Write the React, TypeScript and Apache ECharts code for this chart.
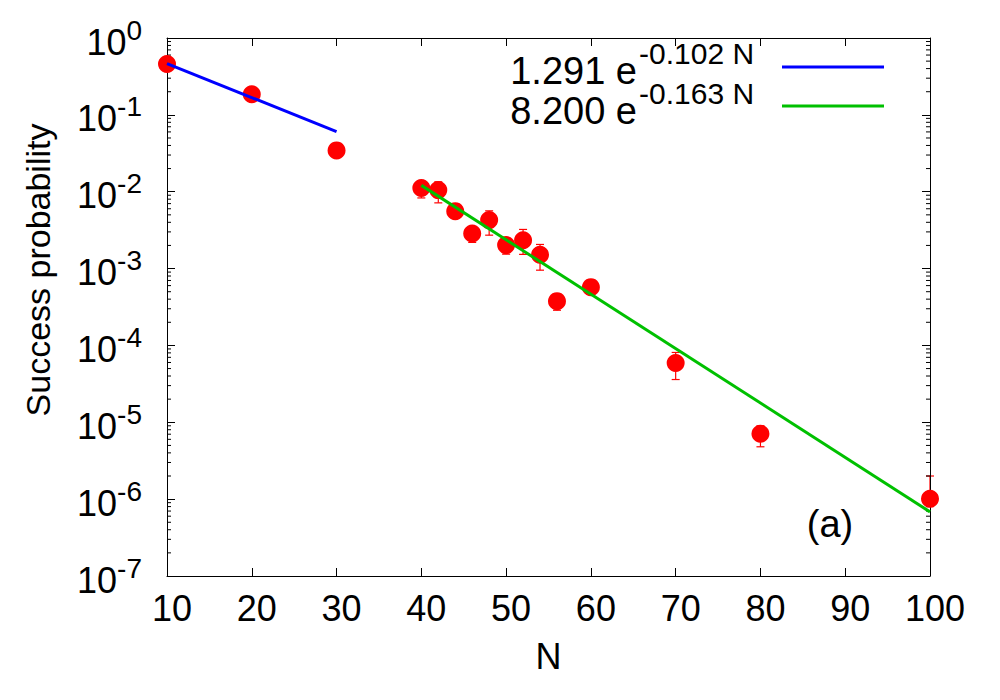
import React, { useEffect, useRef } from "react";
import * as echarts from "echarts";

// Measured points (N, success probability)
const pointN = [10, 20, 30, 40, 42, 44, 46, 48, 50, 52, 54, 56, 60, 70, 80, 100];
const pointP = [0.458, 0.185, 0.0345, 0.0112, 0.0105, 0.00559, 0.00286, 0.00427, 0.00202, 0.00234, 0.00151, 0.000377, 0.000573, 5.9e-5, 7.1e-6, 1.01e-6];

// Error bars
const errN = [40, 42, 44, 46, 48, 50, 52, 54, 56, 60, 70, 80, 100];
const errLow = [0.0083, 0.00716, 0.005, 0.00219, 0.00272, 0.00154, 0.00153, 0.000953, 0.000287, 0.0005, 3.6e-5, 4.8e-6, 8e-7];
const errHigh = [0.0135, 0.01346, 0.0063, 0.0035, 0.00564, 0.0025, 0.00323, 0.00206, 0.00045, 0.00065, 8.1e-5, 9e-6, 2.0e-6];

// Fit lines (end points; straight on a log axis)
const fit1N = [10, 30];
const fit1P = [0.4655, 0.0605];
const fit2N = [40, 100];
const fit2P = [0.01209, 6.83e-7];

// Legend texts
const fitCoef = ["1.291 e", "8.200 e"];
const fitRate = ["-0.102 N", "-0.163 N"];
const fitColors = ["#0000ff", "#00c000"];

// Axis ticks
const xTicks = [10, 20, 30, 40, 50, 60, 70, 80, 90, 100];
const yDecades = [-7, -6, -5, -4, -3, -2, -1];
const minorMult = [2, 3, 4, 5, 6, 7, 8, 9];

const FONT = "'Liberation Sans', Arial, Helvetica, sans-serif";

export default function App() {
  const ref = useRef<HTMLDivElement>(null);
  useEffect(() => {
    if (!ref.current) return;
    const chart = echarts.init(ref.current, undefined, { renderer: "svg" });

    const minorData: number[][] = [];
    yDecades.forEach((d) => {
      minorMult.forEach((m) => {
        minorData.push([xTicks[0], m * Math.pow(10, d)]);
      });
    });

    const axisLine = { show: true, lineStyle: { color: "#000", width: 1 } };
    const tick = { show: true, inside: true, length: 8, lineStyle: { color: "#000", width: 1 } };

    const legendGraphics: any[] = [];
    const rowY = [70.5, 110.5];
    const lineY = [67, 106];
    fitCoef.forEach((c, i) => {
      legendGraphics.push({
        type: "text",
        x: 637,
        y: rowY[i],
        style: { text: c, font: `38px ${FONT}`, fill: "#000", align: "right", verticalAlign: "middle" },
      });
      legendGraphics.push({
        type: "text",
        x: 639,
        y: rowY[i] - 17,
        style: { text: fitRate[i], font: `30px ${FONT}`, fill: "#000", align: "left", verticalAlign: "middle" },
      });
      legendGraphics.push({
        type: "line",
        shape: { x1: 782, y1: lineY[i], x2: 884, y2: lineY[i] },
        style: { stroke: fitColors[i], lineWidth: 3 },
      });
    });
    legendGraphics.push({
      type: "text",
      x: 830,
      y: 524,
      style: { text: "(a)", font: `38px ${FONT}`, fill: "#000", align: "center", verticalAlign: "middle" },
    });

    chart.setOption({
      animation: false,
      backgroundColor: "#fff",
      textStyle: { fontFamily: FONT },
      grid: { left: 167, right: 70, top: 38, bottom: 124, containLabel: false },
      xAxis: [
        {
          type: "value",
          min: 10,
          max: 100,
          interval: 10,
          position: "bottom",
          axisLine,
          axisTick: tick,
          splitLine: { show: false },
          axisLabel: {
            show: true,
            color: "#000",
            fontSize: 36,
            fontFamily: FONT,
            margin: 14,
            padding: [0, 0, 0, 10],
          },
          name: "N",
          nameLocation: "middle",
          nameGap: 62,
          nameTextStyle: { color: "#000", fontSize: 36, fontFamily: FONT },
        },
        {
          type: "value",
          min: 10,
          max: 100,
          interval: 10,
          position: "top",
          axisLine,
          axisTick: tick,
          splitLine: { show: false },
          axisLabel: { show: false },
        },
      ],
      yAxis: [
        {
          type: "log",
          logBase: 10,
          min: 1e-7,
          max: 1,
          interval: 1,
          splitNumber: 7,
          position: "left",
          axisLine,
          axisTick: tick,
          splitLine: { show: false },
          axisLabel: {
            color: "#000",
            margin: 25,
            formatter: (v: number) => `{b|10}{s|${Math.round(Math.log10(v))}}`,
            rich: {
              b: { fontSize: 36, fontFamily: FONT, color: "#000", lineHeight: 44, verticalAlign: "bottom" },
              s: { fontSize: 28, fontFamily: FONT, color: "#000", lineHeight: 24, verticalAlign: "top" },
            },
          },
          name: "Success probability",
          nameLocation: "middle",
          nameRotate: 90,
          nameGap: 112,
          nameTextStyle: { color: "#000", fontSize: 34, fontFamily: FONT, padding: [0, 0, 0, 74] },
        },
        {
          type: "log",
          logBase: 10,
          min: 1e-7,
          max: 1,
          interval: 1,
          splitNumber: 7,
          position: "right",
          axisLine,
          axisTick: tick,
          splitLine: { show: false },
          axisLabel: { show: false },
        },
      ],
      graphic: legendGraphics,
      series: [
        {
          type: "custom",
          name: "minorTicks",
          silent: true,
          clip: false,
          data: minorData,
          encode: { x: 0, y: 1 },
          renderItem: (params: any, api: any) => {
            const v = api.value(1);
            const l = api.coord([xTicks[0], v]);
            const r = api.coord([xTicks[xTicks.length - 1], v]);
            return {
              type: "group",
              children: [
                { type: "line", shape: { x1: l[0], y1: l[1], x2: l[0] + 4, y2: l[1] }, style: { stroke: "#000", lineWidth: 1 } },
                { type: "line", shape: { x1: r[0] - 4, y1: r[1], x2: r[0], y2: r[1] }, style: { stroke: "#000", lineWidth: 1 } },
              ],
            };
          },
        },
        {
          type: "custom",
          name: "errors",
          silent: true,
          clip: false,
          z: -1,
          data: errN.map((n, i) => [n, errLow[i], errHigh[i]]),
          encode: { x: 0, y: [1, 2] },
          renderItem: (params: any, api: any) => {
            const n = api.value(0);
            const lo = api.coord([n, api.value(1)]);
            const hi = api.coord([n, api.value(2)]);
            const w = 4;
            const st = { stroke: "#ff0000", lineWidth: 1.2 };
            return {
              type: "group",
              children: [
                { type: "line", shape: { x1: lo[0], y1: lo[1], x2: hi[0], y2: hi[1] }, style: st },
                { type: "line", shape: { x1: lo[0] - w, y1: lo[1], x2: lo[0] + w, y2: lo[1] }, style: st },
                { type: "line", shape: { x1: hi[0] - w, y1: hi[1], x2: hi[0] + w, y2: hi[1] }, style: st },
              ],
            };
          },
        },
        {
          type: "scatter",
          name: "data",
          symbol: "circle",
          symbolSize: 18,
          clip: false,
          itemStyle: { color: "#ff0000", opacity: 1 },
          data: pointN.map((n, i) => [n, pointP[i]]),
        },
        {
          type: "line",
          name: "fit1",
          symbol: "none",
          clip: false,
          lineStyle: { color: fitColors[0], width: 3 },
          data: fit1N.map((n, i) => [n, fit1P[i]]),
        },
        {
          type: "line",
          name: "fit2",
          symbol: "none",
          clip: false,
          lineStyle: { color: fitColors[1], width: 3 },
          data: fit2N.map((n, i) => [n, fit2P[i]]),
        },
      ],
    });
    return () => chart.dispose();
  }, []);
  return (
    <div
      ref={ref}
      style={{ position: "absolute", left: 0, top: 0, width: 1000, height: 700, background: "#fff" }}
    />
  );
}
